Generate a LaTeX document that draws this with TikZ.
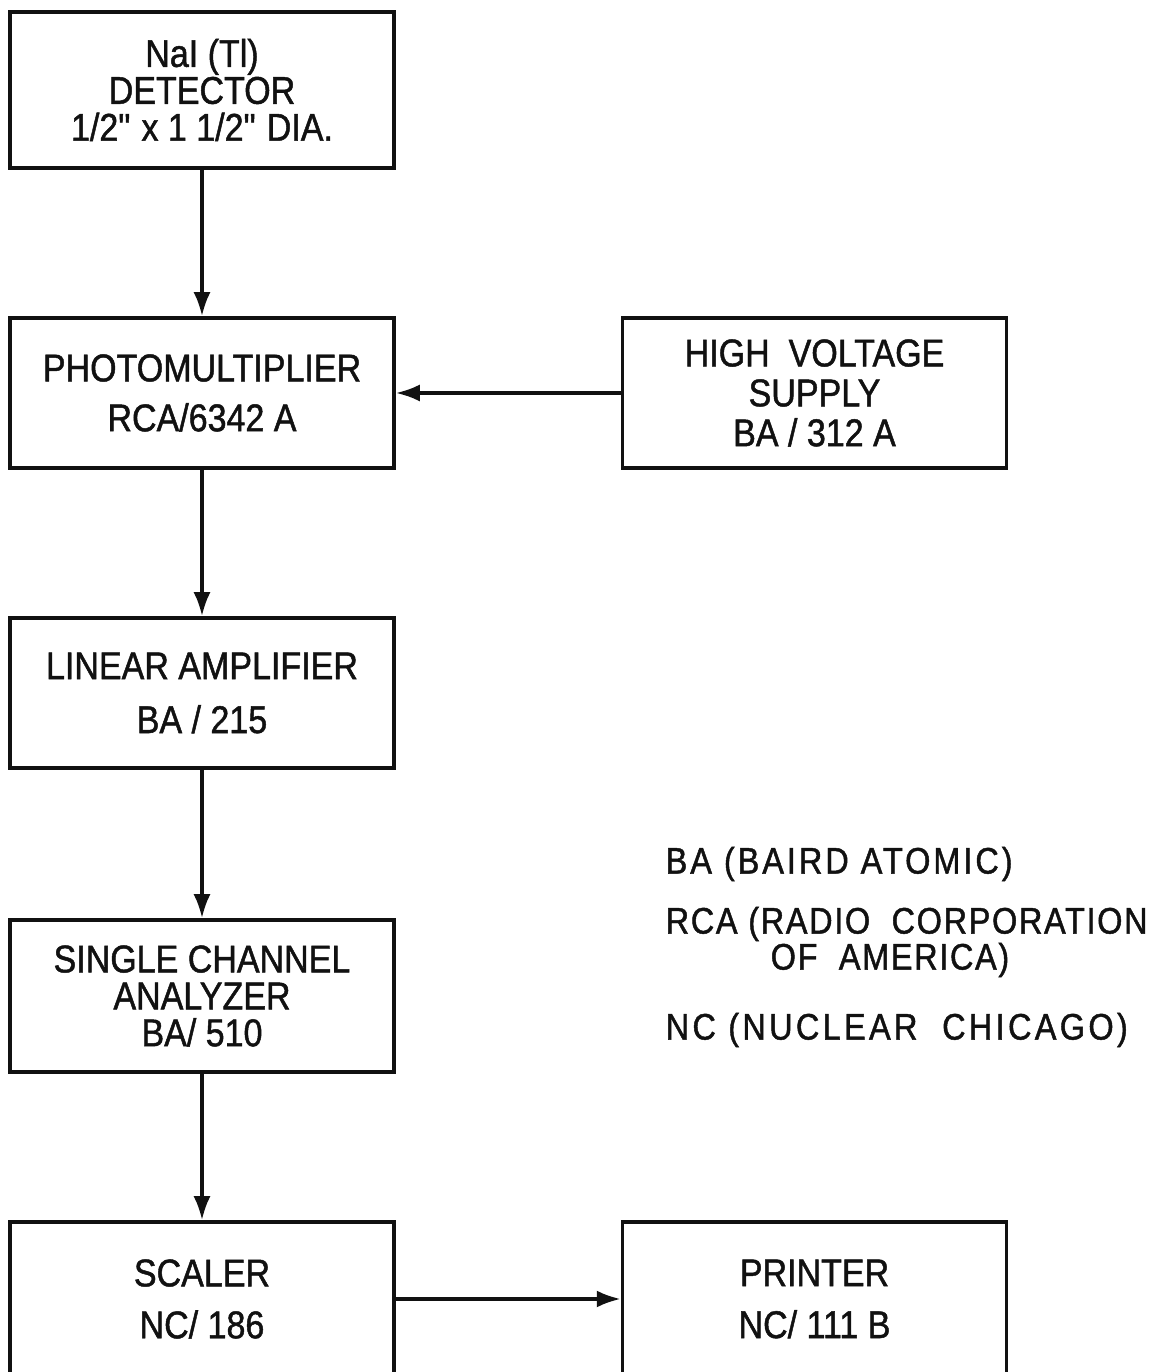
\documentclass[tikz,border=0pt]{standalone}
\usepackage{fontspec}
\setmainfont{Liberation Sans}[FakeStretch=0.88,FakeBold=1.2]
\usetikzlibrary{arrows.meta,positioning}
\definecolor{cInk}{HTML}{111111}
\newcommand{\inch}{\textquotedbl}
\tikzset{
  every node/.style={font=\fontsize{11}{10.5}\selectfont, text=cInk},
  box/.style={draw=cInk, line width=1pt, minimum width=3.84cm, minimum height=1.5cm, align=center, inner sep=2pt},
  arr/.style={-{Latex[length=0.24cm,width=0.17cm]}, line width=1pt, draw=cInk},
  legend/.style={anchor=west, align=left, inner sep=0pt},
}

\begin{document}
\begin{tikzpicture}[x=1cm,y=1cm]
\useasboundingbox (0,0) rectangle (11.58,13.72);
% ---------------- signal chain
\node[box, minimum height=1.56cm] (det) at (2.02,12.82) {NaI (Tl)\\DETECTOR\\1/2\inch{} x 1 1/2\inch{} DIA.};
\node[box] (pm) at (2.02,9.79) {\raisebox{-0.04cm}{PHOTOMULTIPLIER}\\[0.13cm]\raisebox{-0.04cm}{RCA/6342 A}};
\node[box] (hv) at (8.145,9.79) {HIGH\ \ VOLTAGE\\[0.03cm]SUPPLY\\[0.03cm]BA / 312 A};
\node[box] (lin) at (2.02,6.79) {LINEAR AMPLIFIER\\[0.17cm]BA / 215};
\node[box, minimum height=1.52cm] (sca) at (2.02,3.76) {SINGLE CHANNEL\\ANALYZER\\BA/ 510};
\node[box, minimum height=1.54cm] (scl) at (2.02,0.73) {SCALER\\[0.15cm]NC/ 186};
\node[box, minimum height=1.54cm] (prn) at (8.145,0.73) {PRINTER\\[0.15cm]NC/ 111 B};

\draw[arr] (det) -- (pm);
\draw[arr] (hv) -- (pm);
\draw[arr] (pm) -- (lin);
\draw[arr] (lin) -- (sca);
\draw[arr] (sca) -- (scl);
\draw[arr] (scl) -- (prn);

% ---------------- makers
\node[legend, font=\fontsize{10.5}{10}\selectfont\addfontfeature{LetterSpace=8}] (lgba) at (6.65,5.08) {BA (BAIRD ATOMIC)};
\node[legend, font=\fontsize{10.5}{10}\selectfont\addfontfeature{LetterSpace=4.5}] (lgrca) at (6.65,4.48) {RCA (RADIO\ \ CORPORATION};
\node[legend, font=\fontsize{10.5}{10}\selectfont\addfontfeature{LetterSpace=4.5}] (lgrcb) at (7.70,4.12) {OF\ \ AMERICA)};
\node[legend, font=\fontsize{10.5}{10}\selectfont\addfontfeature{LetterSpace=9}] (lgnc) at (6.65,3.42) {NC\ (NUCLEAR\ \ CHICAGO)};
\end{tikzpicture}
\end{document}
